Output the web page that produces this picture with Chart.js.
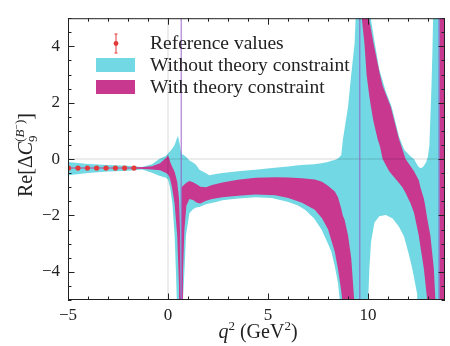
<!DOCTYPE html>
<html>
<head>
<meta charset="utf-8">
<script src="https://cdn.jsdelivr.net/npm/chart.js@4.4.0/dist/chart.umd.min.js"></script>
<style>
  html, body { margin: 0; padding: 0; background: #fff; }
  #wrap { width: 450px; height: 346px; }
</style>
</head>
<body>
<div id="wrap"><canvas id="canvas"></canvas></div>
<script>
// Reference values (red points)
const refQ2 = [-4.97, -4.5, -4.03, -3.57, -3.1, -2.63, -2.17, -1.7];
const refVal = [-0.32, -0.32, -0.32, -0.32, -0.32, -0.32, -0.32, -0.32];
const refErr = [0.04, 0.04, 0.04, 0.04, 0.04, 0.04, 0.04, 0.04];

// Band without theory constraint (cyan): q2, lower, upper
const cyanQ2 = [-5, -4, -3, -2, -1.3, -0.8, -0.4, -0.1, 0, 0.1, 0.22, 0.33, 0.39, 0.45, 0.5, 0.58, 0.64, 0.7, 0.75, 0.83, 0.9, 1.07, 1.25, 1.4, 1.57, 1.9, 2.06, 2.4, 2.72, 3.5, 4.37, 5.2, 6.02, 6.5, 6.85, 7.3, 7.67, 8.0, 8.17, 8.34, 8.5, 8.66, 8.75, 9.0, 9.16, 9.33, 9.41, 9.5, 9.98, 10.0, 10.07, 10.15, 10.32, 10.56, 10.89, 11.16, 11.22, 11.55, 11.8, 11.88, 12.05, 12.21, 12.3, 12.46, 12.56, 12.65, 12.75, 12.9, 13.0, 13.07, 13.12, 13.17, 13.22, 13.27, 13.32, 13.85];
const cyanLo = [-0.57, -0.49, -0.44, -0.41, -0.37, -0.48, -0.6, -0.66, -0.72, -1.0, -1.58, -2.7, -3.86, -5.2, -20, -20, -20, -20, -5.0, -3.86, -2.7, -1.92, -1.78, -1.72, -1.7, -1.6, -1.58, -1.52, -1.46, -1.4, -1.35, -1.38, -1.52, -1.65, -1.8, -2.1, -2.49, -3.0, -3.29, -3.8, -4.4, -5.5, -20, -20, -20, -20, -20, -20, -20, -5.2, -3.87, -2.95, -2.26, -2.03, -1.98, -2.08, -2.1, -2.4, -2.75, -2.95, -3.4, -3.87, -4.2, -4.8, -20, -20, -20, -20, -20, -20, -20, -20, -20, -20, -20, -20];
const cyanHi = [-0.10, -0.17, -0.21, -0.24, -0.28, -0.18, 0.02, 0.12, 0.2, 0.28, 0.38, 0.5, 0.62, 0.75, 0.82, 0.55, 0.3, 0.17, 0.16, 0.12, 0.08, -0.05, -0.12, -0.2, -0.38, -0.5, -0.57, -0.53, -0.49, -0.43, -0.38, -0.32, -0.26, -0.22, -0.2, -0.18, -0.15, -0.1, -0.06, -0.03, 0.02, 0.14, 0.72, 1.85, 2.99, 4.1, 5.5, 20, 20, 12, 5.6, 4.95, 4.2, 3.2, 2.4, 1.9, 1.75, 0.8, 0.35, 0.28, 0.15, 0.05, 0.0, -0.2, -0.3, -0.32, -0.28, -0.12, 0.1, 0.5, 1.5, 2.5, 3.8, 5.5, 20, 20];

// Band with theory constraint (magenta): q2, lower, upper
const magQ2 = [-5, -2, -1.2, -0.8, -0.4, -0.1, 0, 0.06, 0.12, 0.2, 0.33, 0.46, 0.55, 0.6, 0.64, 0.66, 0.68, 0.68, 0.75, 0.82, 0.92, 1.07, 1.25, 1.45, 1.62, 1.9, 2.2, 2.72, 3.5, 4.37, 5.36, 6.02, 6.7, 7.34, 7.7, 8.0, 8.34, 8.5, 8.66, 8.74, 8.83, 9.0, 9.16, 9.33, 9.4, 9.6, 9.6, 9.7, 9.82, 9.93, 10.07, 10.15, 10.27, 10.48, 10.6, 10.73, 11.06, 11.14, 11.55, 11.72, 11.88, 12.13, 12.3, 12.54, 12.62, 12.79, 12.84, 12.96, 13.05, 13.12, 13.29, 13.37, 13.42, 13.58, 13.58, 13.85];
const magLo = [-0.33, -0.33, -0.35, -0.37, -0.40, -0.49, -0.55, -0.62, -0.75, -1.0, -1.58, -2.7, -4.5, -8, -20, -20, -20, -20, -4.0, -2.5, -1.65, -1.42, -1.45, -1.55, -1.58, -1.48, -1.42, -1.35, -1.3, -1.26, -1.28, -1.38, -1.55, -1.8, -2.1, -2.49, -3.29, -3.9, -4.66, -5.2, -20, -20, -20, -20, -20, -20, 30, 4.93, 4.13, 2.99, 2.2, 1.85, 1.35, 0.71, 0.45, 0.0, -0.43, -0.5, -0.85, -1.0, -1.2, -1.58, -1.9, -2.72, -3.1, -3.87, -4.2, -5.0, -20, -20, -20, -20, -20, -20, -20, -20];
const magHi = [-0.30, -0.30, -0.28, -0.25, -0.15, 0.04, 0.14, 0.02, -0.12, -0.25, -0.45, -0.8, -1.4, -2.5, -5, -20, -20, -1.0, -0.95, -0.9, -0.84, -0.78, -0.82, -0.9, -0.98, -1.0, -0.92, -0.83, -0.73, -0.66, -0.64, -0.65, -0.68, -0.72, -0.8, -0.95, -1.15, -1.35, -1.75, -2.0, -2.15, -2.7, -3.5, -5.2, -20, -20, 30, 40, 15, 9, 4.93, 4.6, 4.13, 3.4, 2.99, 2.6, 2.0, 1.85, 0.71, 0.35, 0.0, -0.25, -0.43, -0.75, -1.0, -1.4, -1.58, -2.1, -2.45, -2.72, -3.87, -5.0, -20, -20, 20, 20];

// Resonance lines and axis ticks
const poleLines = [0.66, 9.59, 13.55];
const xTickLabels = [-5, 0, 5, 10];
const yTickLabels = [-4, -2, 0, 2, 4];

const cyanColor = 'rgb(114, 216, 227)';
const magColor = 'rgb(200, 56, 143)';
const refColor = '#e33a3a';
const serif = '"Liberation Serif", "DejaVu Serif", serif';

function toPoints(xs, ys) {
  return xs.map((x, i) => ({ x: x, y: ys[i] }));
}

function fmt(v) {
  return v < 0 ? '\u2212' + Math.abs(v) : String(v);
}

function bandLine(data, fill, color) {
  return {
    data: data,
    fill: fill,
    backgroundColor: color,
    borderColor: 'transparent',
    borderWidth: 0,
    pointRadius: 0,
    tension: 0
  };
}

// text pieces: [text, size, italic, dy, noAdvance]
function richWidth(ctx, parts) {
  let w = 0;
  parts.forEach(p => {
    ctx.font = (p[2] ? 'italic ' : '') + p[1] + 'px ' + serif;
    if (!p[4]) w += ctx.measureText(p[0]).width;
  });
  return w;
}

function drawRich(ctx, parts, x, y) {
  let cx = x;
  parts.forEach(p => {
    ctx.font = (p[2] ? 'italic ' : '') + p[1] + 'px ' + serif;
    ctx.fillText(p[0], cx, y + p[3]);
    if (!p[4]) cx += ctx.measureText(p[0]).width;
  });
}

const overlayPlugin = {
  id: 'overlay',
  afterDatasetsDraw(chart) {
    const { ctx, chartArea: a, scales: { x, y } } = chart;
    ctx.save();
    ctx.beginPath();
    ctx.rect(a.left, a.top, a.right - a.left, a.bottom - a.top);
    ctx.clip();

    // zero lines
    ctx.strokeStyle = 'rgba(0,0,0,0.1)';
    ctx.lineWidth = 1.5;
    const y0 = y.getPixelForValue(0);
    const x0 = x.getPixelForValue(0);
    ctx.beginPath();
    ctx.moveTo(a.left, y0); ctx.lineTo(a.right, y0);
    ctx.moveTo(x0, a.top); ctx.lineTo(x0, a.bottom);
    ctx.stroke();

    // resonances
    ctx.strokeStyle = 'rgba(150, 90, 200, 0.85)';
    ctx.lineWidth = 1.1;
    poleLines.forEach(q => {
      const px = x.getPixelForValue(q);
      ctx.beginPath();
      ctx.moveTo(px, a.top); ctx.lineTo(px, a.bottom);
      ctx.stroke();
    });

    // error bars of reference values
    ctx.strokeStyle = refColor;
    ctx.lineWidth = 1;
    refQ2.forEach((q, i) => {
      const px = x.getPixelForValue(q);
      const t = y.getPixelForValue(refVal[i] + refErr[i]);
      const b = y.getPixelForValue(refVal[i] - refErr[i]);
      ctx.beginPath();
      ctx.moveTo(px, t); ctx.lineTo(px, b);
      ctx.stroke();
    });
    ctx.restore();
  },
  afterDraw(chart) {
    const { ctx, chartArea: a, scales: { x, y } } = chart;
    ctx.save();

    // frame
    ctx.strokeStyle = '#222';
    ctx.lineWidth = 1;
    ctx.strokeRect(a.left + 0.5, a.top + 0.5, a.right - a.left - 1, a.bottom - a.top - 1);

    // inward ticks on all four sides
    ctx.beginPath();
    for (let q = -5; q <= 13; q++) {
      const px = Math.round(x.getPixelForValue(q)) + 0.5;
      const len = q % 5 === 0 ? 6.5 : 3.5;
      ctx.moveTo(px, a.bottom); ctx.lineTo(px, a.bottom - len);
      ctx.moveTo(px, a.top); ctx.lineTo(px, a.top + len);
    }
    for (let k = -10; k <= 10; k++) {
      const v = k / 2;
      const py = Math.round(y.getPixelForValue(v)) + 0.5;
      const len = k % 4 === 0 ? 6.5 : 3.5;
      ctx.moveTo(a.left, py); ctx.lineTo(a.left + len, py);
      ctx.moveTo(a.right, py); ctx.lineTo(a.right - len, py);
    }
    ctx.stroke();

    // legend
    ctx.textBaseline = 'middle';
    ctx.textAlign = 'left';
    ctx.strokeStyle = refColor;
    ctx.beginPath();
    ctx.moveTo(116, 34); ctx.lineTo(116, 53);
    ctx.moveTo(114.5, 34); ctx.lineTo(117.5, 34);
    ctx.moveTo(114.5, 53); ctx.lineTo(117.5, 53);
    ctx.stroke();
    ctx.fillStyle = refColor;
    ctx.beginPath();
    ctx.arc(116, 43.5, 2.4, 0, Math.PI * 2);
    ctx.fill();
    ctx.fillStyle = cyanColor;
    ctx.fillRect(96, 58, 39, 14);
    ctx.fillStyle = magColor;
    ctx.fillRect(96, 80, 39, 14);
    ctx.fillStyle = '#222';
    ctx.font = '19.5px ' + serif;
    ctx.fillText('Reference values', 150, 44);
    ctx.fillText('Without theory constraint', 150, 65.5);
    ctx.fillText('With theory constraint', 150, 87.5);

    // x title
    ctx.textBaseline = 'alphabetic';
    const xParts = [['q', 20, true, 0], ['2', 13, false, -8], [' (GeV', 20, false, 0], ['2', 13, false, -8], [')', 20, false, 0]];
    const xw = richWidth(ctx, xParts);
    drawRich(ctx, xParts, 258 - xw / 2, 338);

    // y title (rotated)
    ctx.translate(32, 155);
    ctx.rotate(-Math.PI / 2);
    const yParts = [['Re[\u0394', 20, false, 0], ['C', 20, true, 0], ['9', 13, false, 4.5, true],
      ['(', 13, false, -8], ['B', 13, true, -8], ['\u2212', 10, false, -12], [')', 13, false, -8], [']', 20, false, 0]];
    const yw = richWidth(ctx, yParts);
    drawRich(ctx, yParts, -yw / 2, 0);
    ctx.restore();
  }
};

const ctx = document.getElementById('canvas').getContext('2d');

new Chart(ctx, {
  type: 'line',
  data: {
    datasets: [
      {
        data: toPoints(refQ2, refVal),
        showLine: false,
        pointRadius: 2.6,
        pointBackgroundColor: refColor,
        pointBorderColor: refColor,
        pointBorderWidth: 0,
        fill: false
      },
      bandLine(toPoints(magQ2, magLo), false, magColor),
      bandLine(toPoints(magQ2, magHi), '-1', magColor),
      bandLine(toPoints(cyanQ2, cyanLo), false, cyanColor),
      bandLine(toPoints(cyanQ2, cyanHi), '-1', cyanColor)
    ]
  },
  options: {
    responsive: true,
    maintainAspectRatio: false,
    animation: false,
    devicePixelRatio: 1,
    layout: { padding: { left: 0, top: 8, right: 2.5, bottom: 0 } },
    plugins: {
      legend: { display: false },
      tooltip: { enabled: false }
    },
    scales: {
      x: {
        type: 'linear',
        min: -5,
        max: 13.85,
        grid: { display: false, drawTicks: false },
        border: { display: false },
        ticks: {
          stepSize: 1,
          autoSkip: false,
          maxRotation: 0,
          padding: 5,
          color: '#222',
          font: { family: serif, size: 17 },
          callback: v => xTickLabels.includes(v) ? fmt(v) : ''
        },
        afterFit: scale => { scale.height = 46; }
      },
      y: {
        type: 'linear',
        min: -5,
        max: 5,
        grid: { display: false, drawTicks: false },
        border: { display: false },
        ticks: {
          stepSize: 0.5,
          autoSkip: false,
          padding: 8,
          color: '#222',
          font: { family: serif, size: 17 },
          callback: v => yTickLabels.includes(v) ? fmt(v) : ''
        },
        afterFit: scale => { scale.width = 68; }
      }
    }
  },
  plugins: [overlayPlugin]
});
</script>
</body>
</html>
